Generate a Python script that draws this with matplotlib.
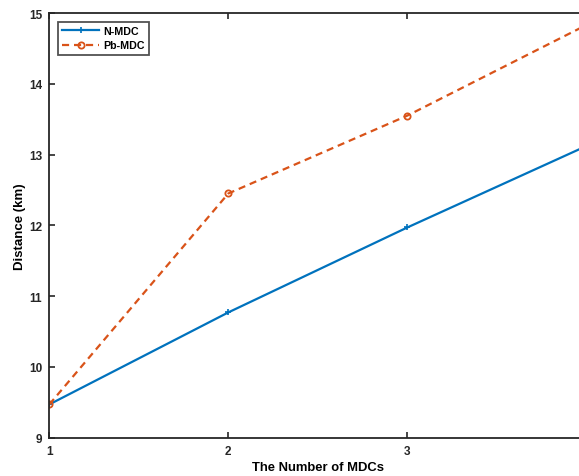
import numpy as np
import matplotlib
matplotlib.use("Agg")
import matplotlib.pyplot as plt

plt.rcParams['font.family'] = ['Liberation Sans', 'DejaVu Sans']

mdcs = [1, 2, 3, 4]
n_mdc = [9.47, 10.77, 11.97, 13.12]
pb_mdc = [9.47, 12.45, 13.55, 14.83]

W, H = 579, 477
fig = plt.figure(figsize=(W / 100, H / 100), dpi=100)
# axes runs past the right edge (reference is cropped there)
ax = fig.add_axes([49.3 / W, (H - 438.7) / H, 537 / W, (438.7 - 14) / H])

ax.plot(mdcs, n_mdc, color='#0072BD', lw=1.6, marker='+', ms=5, mew=1.2, label='N-MDC')
ax.plot(mdcs, pb_mdc, color='#D95319', lw=1.6, ls='--', dashes=(3.2, 2.2), marker='o', ms=4.5,
        mfc='none', mew=1.3, label='Pb-MDC')

ax.set_xlim(1, 4)
ax.set_ylim(9, 15)
ax.set_xticks([1, 2, 3])
ax.set_yticks(np.arange(9, 16, 1))
ax.tick_params(direction='in', length=4, width=1.2, labelsize=8.5, top=True, right=True,
               colors='#262626', pad=5)
for lbl in ax.get_xticklabels() + ax.get_yticklabels():
    lbl.set_fontweight('bold')
for s in ax.spines.values():
    s.set_linewidth(1.3)
    s.set_color('#262626')

ax.set_xlabel('The Number of MDCs', fontsize=9.4, fontweight='bold', labelpad=3)
ax.set_ylabel('Distance (km)', fontsize=9.5, fontweight='bold', labelpad=2)

leg = ax.legend(loc='upper left', bbox_to_anchor=(0.0165, 0.979), prop={'weight': 'bold', 'size': 7.7},
                frameon=True, fancybox=False, handlelength=3.4, handletextpad=0.4,
                borderpad=0.4, labelspacing=0.4, borderaxespad=0)
leg.get_frame().set_edgecolor('#262626')
leg.get_frame().set_linewidth(1.3)

fig.savefig('out.png', dpi=100)
